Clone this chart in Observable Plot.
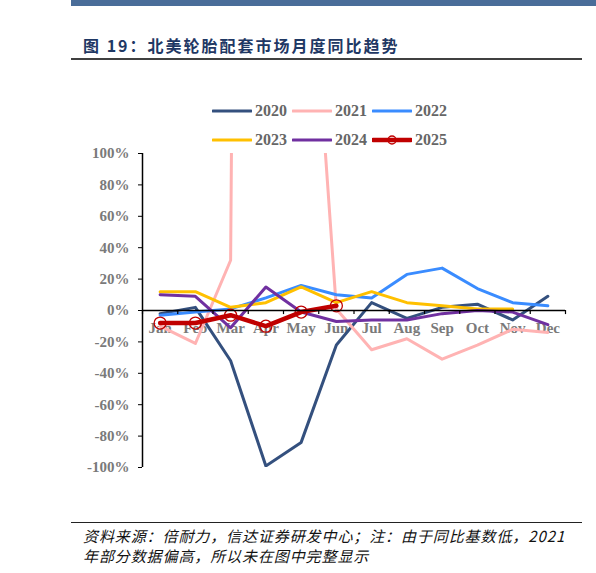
<!DOCTYPE html>
<html>
<head>
<meta charset="utf-8">
<script src="https://cdn.jsdelivr.net/npm/d3@7"></script>
<script src="https://cdn.jsdelivr.net/npm/@observablehq/plot@0.6"></script>
<style>
  body { margin: 0; background: #fff; }
  #page { position: relative; width: 596px; height: 573px; overflow: hidden; }
  .abs { position: absolute; }
  #title { left: 83px; top: 33px; font: bold 16px "Noto Sans CJK SC", sans-serif; color: #1f3864; letter-spacing: 2px; white-space: nowrap; }
  #note { left: 83px; top: 526px; font: italic 15px/20px "Noto Sans CJK SC", sans-serif; color: #111; letter-spacing: 0.9px; }
  .legend-item { position: absolute; display: flex; align-items: center; font: bold 16px "Liberation Serif", serif; color: #666; }
  .legend-item svg { margin-right: 3px; }
  #chart { left: 0; top: 140px; }
</style>
</head>
<body>
<div id="page">
  <div class="abs" style="left:71px;top:0;width:525px;height:6px;background:#4a6d99"></div>
  <div class="abs" id="title">图 19：北美轮胎配套市场月度同比趋势</div>
  <div class="abs" style="left:71px;top:58px;width:511px;height:1.5px;background:#404040"></div>
  <div class="abs" id="legend" style="left:0;top:0"></div>
  <div class="abs" id="chart"></div>
  <div class="abs" style="left:71px;top:522px;width:511px;height:1px;background:#222"></div>
  <div class="abs" id="note">资料来源：倍耐力，信达证券研发中心；注：由于同比基数低，2021<br>年部分数据偏高，所以未在图中完整显示</div>
</div>
<script>
// 月份
const months = ["Jan", "Feb", "Mar", "Apr", "May", "Jun", "Jul", "Aug", "Sep", "Oct", "Nov", "Dec"];

// 同比 % (2021 Apr/May are far above the 100% cut)
const y2020 = [-2, 2, -32, -99, -84, -22, 5, -5, 2, 4, -6, 9];
const y2021 = [-10, -21, 32, 3000, 320, 1, -25, -18, -31, -22, -12, -14];
const y2022 = [-3, -1, 1, 8, 16, 10, 8, 23, 27, 14, 5, 3];
const y2023 = [12, 12, 2, 5, 15, 5, 12, 5, 3, 1, 1, null];
const y2024 = [10, 9, -11, 15, -1, -7, -6, -6, -2, 0, -1, -9];
const y2025 = [-8, -8, -3, -10, -1, 3];

const years = ["2020", "2021", "2022", "2023", "2024", "2025"];
const values = [y2020, y2021, y2022, y2023, y2024, y2025];
const colors = ["#34507e", "#ffb3b3", "#3a8cff", "#ffc000", "#7030a0", "#c00000"];

const series = years.map((year, k) => ({
  year,
  color: colors[k],
  rows: values[k].map((v, i) => ({ month: i, value: v })).filter((d) => d.value != null)
}));

// legend, 3 per row
const legend = document.querySelector("#legend");
series.forEach((s, k) => {
  const item = document.createElement("div");
  item.className = "legend-item";
  item.style.left = 212 + (k % 3) * 80 + "px";
  item.style.top = 100 + Math.floor(k / 3) * 29 + "px";
  const marker = s.year === "2025"
    ? `<circle cx="20" cy="11" r="4" fill="none" stroke="${s.color}" stroke-width="1.5"/>`
    : "";
  const w = s.year === "2025" ? 4.5 : 3;
  item.innerHTML = `<svg width="40" height="22"><line x1="1" x2="39" y1="11" y2="11" stroke="${s.color}" stroke-width="${w}" stroke-linecap="round"/>${marker}</svg><span>${s.year}</span>`;
  legend.append(item);
});

const gray = "#7a7a7a";
const boundaries = d3.range(months.length + 1).map((i) => i - 0.5);

const plot = Plot.plot({
  width: 596,
  height: 350,
  marginTop: 13,
  marginBottom: 23,
  marginLeft: 142,
  marginRight: 31,
  style: { fontFamily: "Liberation Serif, serif", fontWeight: "bold", fontSize: "15px", background: "transparent" },
  x: { domain: [-0.5, months.length - 0.5], axis: null },
  y: { domain: [-100, 100], axis: null },
  marks: [
    Plot.axisY({
      ticks: d3.range(-100, 101, 20),
      tickFormat: (d) => d + "%",
      tickSize: 4,
      tickPadding: 9,
      stroke: "#000",
      fill: gray,
      label: null
    }),
    Plot.text(months, { x: (d, i) => i, y: 0, dy: 18, text: (d) => d, fill: gray }),
    ...series.map((s) =>
      Plot.line(s.rows, {
        x: "month",
        y: "value",
        stroke: s.color,
        strokeWidth: s.year === "2025" ? 4.5 : 3,
        clip: true
      })
    ),
    Plot.dot(series[5].rows, { x: "month", y: "value", r: 6, stroke: colors[5], strokeWidth: 1.3, fill: "none" }),
    Plot.ruleX([-0.5], { stroke: "#000", strokeWidth: 1.5 }),
    Plot.ruleY([0], { stroke: "#000", strokeWidth: 1.5 }),
    Plot.ruleX(boundaries, { y1: 0, y2: -2.6, stroke: "#000", strokeWidth: 1.2 })
  ]
});
document.querySelector("#chart").append(plot);
</script>
</body>
</html>
